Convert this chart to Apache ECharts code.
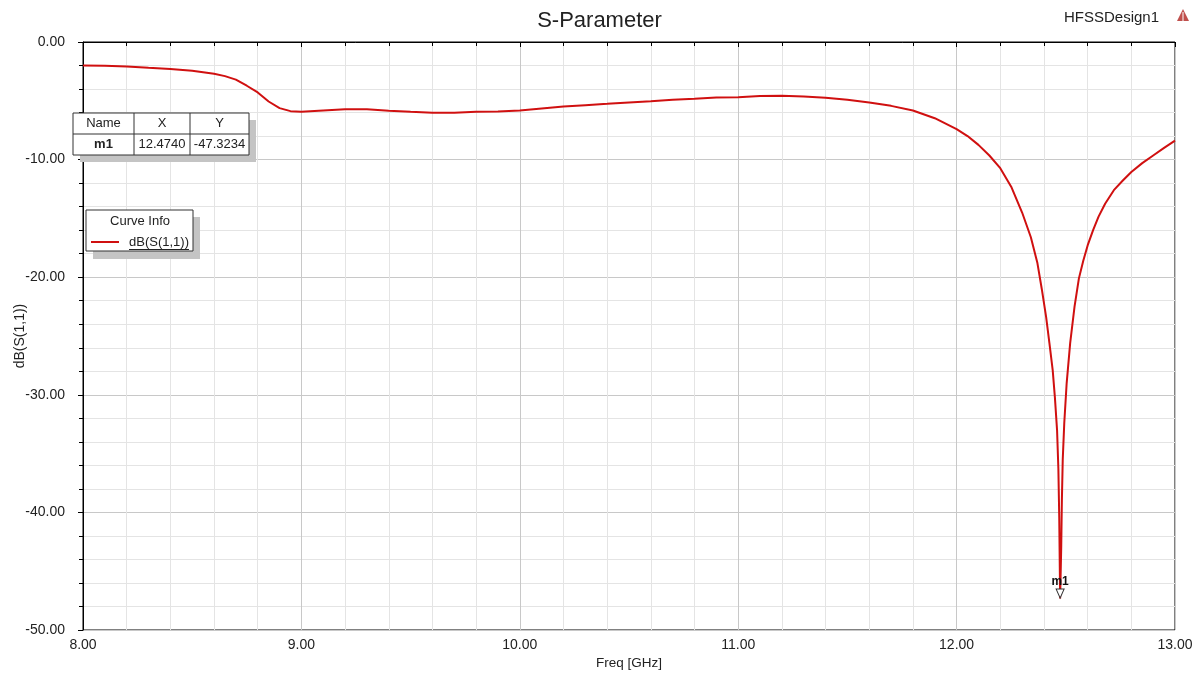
<!DOCTYPE html>
<html lang="en">
<head>
    <meta charset="UTF-8">
    <script src="https://cdn.jsdelivr.net/npm/echarts@6/dist/echarts.min.js"></script>
    <style>
        body, html {
            margin: 0;
            height: 100%;
            background: #fff;
        }

        #main {
            width: 1199px;
            height: 674px;
        }
    </style>
    <title>S-Parameter</title>
</head>
<body>

<div id="main"></div>
<script type="text/javascript">
    const myChart = echarts.init(document.getElementById('main'));
    const FONT = 'Liberation Sans, Arial, sans-serif';

    // frequency (GHz) and dB(S(1,1))
    const freq = [
        8.00, 8.10, 8.20, 8.30, 8.40, 8.50, 8.60, 8.65, 8.70, 8.75,
        8.80, 8.85, 8.90, 8.95, 9.00, 9.10, 9.20, 9.30, 9.40, 9.50,
        9.60, 9.70, 9.80, 9.90, 10.00, 10.10, 10.20, 10.30, 10.40, 10.50,
        10.60, 10.70, 10.80, 10.90, 11.00, 11.10, 11.20, 11.30, 11.40, 11.50,
        11.60, 11.70, 11.80, 11.90, 12.00, 12.05, 12.10, 12.15, 12.20, 12.25,
        12.30, 12.34, 12.37, 12.39, 12.41, 12.425, 12.44, 12.45, 12.46, 12.466,
        12.47, 12.474, 12.479, 12.482, 12.486, 12.493, 12.504, 12.52, 12.54, 12.56,
        12.58, 12.60, 12.625, 12.65, 12.68, 12.72, 12.76, 12.80, 12.85, 12.90,
        12.95, 13.00
    ];
    const s11 = [
        -1.99, -2.03, -2.08, -2.20, -2.30, -2.44, -2.70, -2.90, -3.20, -3.72,
        -4.29, -5.06, -5.62, -5.88, -5.93, -5.82, -5.71, -5.71, -5.85, -5.94,
        -6.02, -6.02, -5.94, -5.90, -5.82, -5.65, -5.48, -5.37, -5.26, -5.14,
        -5.03, -4.91, -4.83, -4.72, -4.69, -4.60, -4.57, -4.63, -4.74, -4.91,
        -5.14, -5.43, -5.82, -6.48, -7.41, -8.00, -8.75, -9.65, -10.73, -12.30,
        -14.5, -16.6, -18.8, -21.0, -23.4, -25.6, -27.9, -30.2, -33.0, -36.3,
        -40.5, -47.32, -43.0, -39.0, -35.5, -32.4, -29.0, -25.6, -22.5, -20.1,
        -18.6, -17.3, -16.0, -14.85, -13.75, -12.6, -11.8, -11.05, -10.3, -9.65,
        -9.0, -8.38
    ];

    const markerCols = ['Name', 'X', 'Y'];
    const markerRow = ['m1', '12.4740', '-47.3234'];
    const markerAt = [12.474, -47.3234];

    const seriesData = freq.map(function (f, i) {
        return [f, s11[i]];
    });

    // marker table cells
    const colX = [73, 134, 190, 249];
    const tableTop = 113, rowH = 21;
    const tableEls = [
        {type: 'rect', shape: {x: 80, y: tableTop + 7, width: colX[3] - colX[0], height: rowH * 2}, style: {fill: '#c4c4c4'}},
        {type: 'rect', shape: {x: colX[0], y: tableTop, width: colX[3] - colX[0], height: rowH * 2}, style: {fill: '#fff', stroke: '#333', lineWidth: 1}},
        {type: 'line', shape: {x1: colX[0], y1: tableTop + rowH, x2: colX[3], y2: tableTop + rowH}, style: {stroke: '#333', lineWidth: 1}}
    ];
    [1, 2].forEach(function (c) {
        tableEls.push({type: 'line', shape: {x1: colX[c], y1: tableTop, x2: colX[c], y2: tableTop + rowH * 2}, style: {stroke: '#333', lineWidth: 1}});
    });
    for (let c = 0; c < 3; c++) {
        const cx = (colX[c] + colX[c + 1]) / 2;
        tableEls.push({type: 'text', x: cx, y: tableTop + rowH / 2, style: {text: markerCols[c], font: '13px ' + FONT, fill: '#222', align: 'center', verticalAlign: 'middle'}});
        tableEls.push({type: 'text', x: cx, y: tableTop + rowH * 1.5, style: {text: markerRow[c], font: (c === 0 ? 'bold ' : '') + '13px ' + FONT, fill: '#222', align: 'center', verticalAlign: 'middle'}});
    }

    const legendEls = [
        {type: 'rect', shape: {x: 93, y: 217, width: 107, height: 42}, style: {fill: '#c4c4c4'}},
        {type: 'rect', shape: {x: 86, y: 210, width: 107, height: 41}, style: {fill: '#fff', stroke: '#333', lineWidth: 1}},
        {type: 'text', x: 140, y: 221, style: {text: 'Curve Info', font: '13px ' + FONT, fill: '#222', align: 'center', verticalAlign: 'middle'}},
        {type: 'line', shape: {x1: 91, y1: 242, x2: 119, y2: 242}, style: {stroke: '#d01010', lineWidth: 2}},
        {type: 'text', x: 129, y: 242, style: {text: 'dB(S(1,1))', font: '13px ' + FONT, fill: '#222', align: 'left', verticalAlign: 'middle'}},
        {type: 'line', shape: {x1: 129, y1: 249.5, x2: 189, y2: 249.5}, style: {stroke: '#222', lineWidth: 1}}
    ];

    const logoEls = [
        {type: 'polygon', shape: {points: [[1183, 9], [1177, 21], [1189, 21]]}, style: {fill: '#c0504d'}},
        {type: 'line', shape: {x1: 1183, y1: 12, x2: 1183, y2: 21}, style: {stroke: '#fff', lineWidth: 1}}
    ];

    const overlay = [
        {type: 'text', right: 40, top: 10, style: {text: 'HFSSDesign1', font: '15px ' + FONT, fill: '#222'}}
    ].concat(logoEls, tableEls, legendEls).map(function (el) {
        el.z = 100;
        return el;
    });

    const option = {
        animation: false,
        backgroundColor: '#fff',
        textStyle: {fontFamily: FONT},
        title: {
            text: 'S-Parameter',
            left: 'center',
            top: 5,
            textStyle: {fontSize: 22, fontWeight: 'normal', color: '#222', fontFamily: FONT}
        },
        grid: {
            left: 83,
            right: 24,
            top: 42,
            bottom: 44,
            outerBoundsMode: 'none',
            containLabel: false,
            show: true,
            borderColor: '#000',
            borderWidth: 1
        },
        xAxis: {
            type: 'value',
            min: 8,
            max: 13,
            interval: 1,
            name: 'Freq [GHz]',
            nameLocation: 'middle',
            nameGap: 26,
            nameMoveOverlap: false,
            nameTextStyle: {fontSize: 13.5, color: '#222', verticalAlign: 'top'},
            axisLine: {lineStyle: {color: '#000', width: 1}},
            axisTick: {show: true, length: 5, lineStyle: {color: '#000'}},
            minorTick: {show: true, splitNumber: 5, length: 4, lineStyle: {color: '#000'}},
            axisLabel: {
                fontSize: 14, color: '#222', margin: 8,
                formatter: function (v) { return v.toFixed(2); }
            },
            splitLine: {show: true, lineStyle: {color: '#c8c8c8', width: 1}},
            minorSplitLine: {show: true, lineStyle: {color: '#e4e4e4', width: 1}}
        },
        yAxis: {
            type: 'value',
            min: -50,
            max: 0,
            interval: 10,
            name: 'dB(S(1,1))',
            nameLocation: 'middle',
            nameGap: 56,
            nameMoveOverlap: false,
            nameTextStyle: {fontSize: 14, color: '#222'},
            axisLine: {lineStyle: {color: '#000', width: 1}},
            axisTick: {show: true, length: 5, lineStyle: {color: '#000'}},
            minorTick: {show: true, splitNumber: 5, length: 4, lineStyle: {color: '#000'}},
            axisLabel: {
                fontSize: 14, color: '#222', margin: 18,
                formatter: function (v) { return v.toFixed(2); }
            },
            splitLine: {show: true, lineStyle: {color: '#c8c8c8', width: 1}},
            minorSplitLine: {show: true, lineStyle: {color: '#e4e4e4', width: 1}}
        },
        graphic: overlay,
        series: [
            {
                type: 'line',
                name: 'dB(S(1,1))',
                data: seriesData,
                showSymbol: false,
                smooth: false,
                lineStyle: {color: '#d01010', width: 2},
                markPoint: {
                    symbol: 'triangle',
                    symbolRotate: 180,
                    symbolSize: [8, 9],
                    symbolOffset: [0, -5],
                    itemStyle: {color: '#fff', borderColor: '#333', borderWidth: 1},
                    label: {
                        show: true, position: 'top', distance: 1,
                        formatter: 'm1', fontSize: 12, fontWeight: 'bold', color: '#111'
                    },
                    data: [{coord: markerAt}]
                }
            }
        ]
    };
    myChart.setOption(option);
</script>
</body>
</html>
